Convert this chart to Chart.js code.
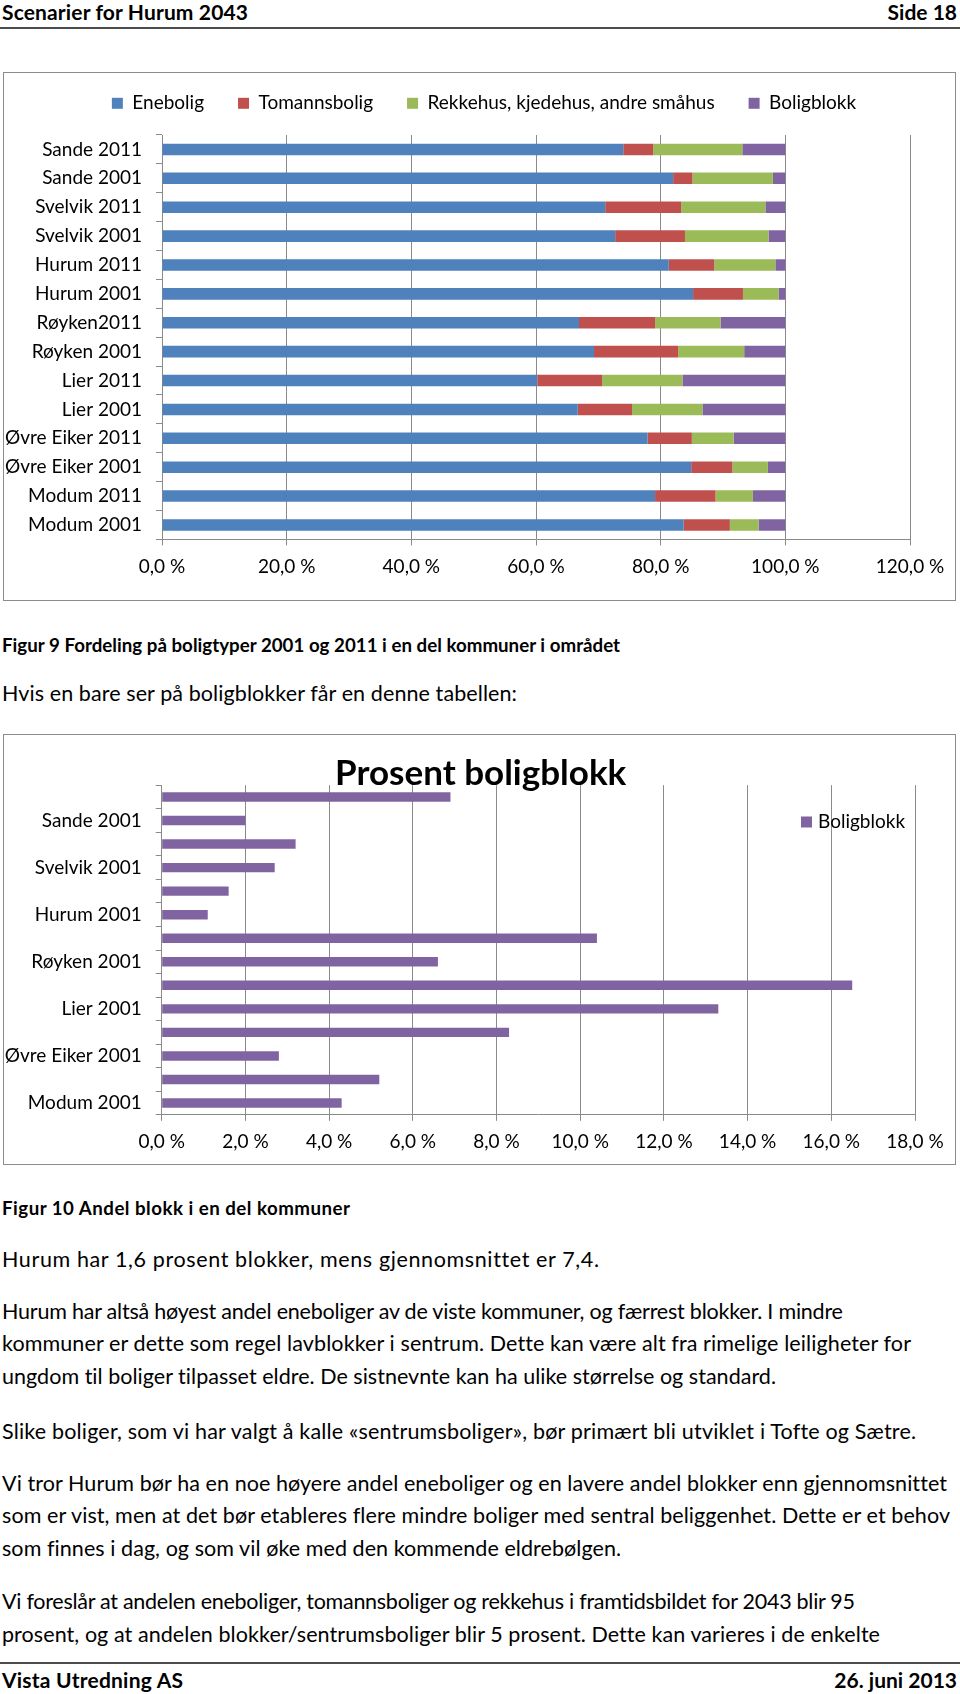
<!DOCTYPE html>
<html lang="no">
<head>
<meta charset="utf-8">
<title>Scenarier for Hurum 2043</title>
<script src="https://cdn.jsdelivr.net/npm/chart.js@4.4.1/dist/chart.umd.min.js"></script>
<style>
  html, body { margin: 0; padding: 0; background: #fff; }
  body { width: 960px; height: 1694px; position: relative; overflow: hidden; font-family: Lato, "Noto Sans", sans-serif; color: #000; font-variant-ligatures: none; }
  .t { position: absolute; left: 2px; white-space: nowrap; font-size: 21.5px; line-height: 1.2; }
  .cap { font-size: 18.7px; font-weight: bold; }
  .head { font-size: 21px; font-weight: bold; }
  .right { left: auto; right: 3px; }
  .rule { position: absolute; left: 0; width: 960px; height: 0; border-top: 2px solid #4d4d4d; }
  .box { position: absolute; left: 3px; width: 953px; box-sizing: border-box; border: 1px solid #8c8c8c; background: #fff; }
  .box canvas { position: absolute; left: 0; top: 0; }
</style>
</head>
<body>

<div class="t head" style="top:-1px" data-w="246">Scenarier for Hurum 2043</div>
<div class="t head right" style="top:-1px">Side 18</div>
<div class="rule" style="top:27px"></div>

<div class="box" style="top:72px; height:529px">
  <canvas id="fordelingChart" width="951" height="527"></canvas>
</div>

<div class="t cap" style="top:633.5px" data-w="618">Figur 9 Fordeling på boligtyper 2001 og 2011 i en del kommuner i området</div>
<div class="t" style="top:680.8px" data-w="515">Hvis en bare ser på boligblokker får en denne tabellen:</div>

<div class="box" style="top:734px; height:431px">
  <canvas id="blokkChart" width="951" height="429"></canvas>
</div>

<div class="t cap" style="top:1196.5px" data-w="348">Figur 10 Andel blokk i en del kommuner</div>
<div class="t" style="top:1246.8px" data-w="597">Hurum har 1,6 prosent blokker, mens gjennomsnittet er 7,4.</div>

<div class="t" style="top:1298.8px" data-w="841">Hurum har altså høyest andel eneboliger av de viste kommuner, og færrest blokker. I mindre</div>
<div class="t" style="top:1331.2px" data-w="909">kommuner er dette som regel lavblokker i sentrum. Dette kan være alt fra rimelige leiligheter for</div>
<div class="t" style="top:1363.6px" data-w="774">ungdom til boliger tilpasset eldre. De sistnevnte kan ha ulike størrelse og standard.</div>

<div class="t" style="top:1418.8px" data-w="914">Slike boliger, som vi har valgt å kalle «sentrumsboliger», bør primært bli utviklet i Tofte og Sætre.</div>

<div class="t" style="top:1470.8px" data-w="945">Vi tror Hurum bør ha en noe høyere andel eneboliger og en lavere andel blokker enn gjennomsnittet</div>
<div class="t" style="top:1503.2px" data-w="948">som er vist, men at det bør etableres flere mindre boliger med sentral beliggenhet. Dette er et behov</div>
<div class="t" style="top:1535.6px" data-w="619">som finnes i dag, og som vil øke med den kommende eldrebølgen.</div>

<div class="t" style="top:1589.4px" data-w="853">Vi foreslår at andelen eneboliger, tomannsboliger og rekkehus i framtidsbildet for 2043 blir 95</div>
<div class="t" style="top:1621.8px" data-w="878">prosent, og at andelen blokker/sentrumsboliger blir 5 prosent. Dette kan varieres i de enkelte</div>

<div class="rule" style="top:1662px"></div>
<div class="t head" style="top:1667px" data-w="181">Vista Utredning AS</div>
<div class="t head right" style="top:1667px">26. juni 2013</div>

<script>
// kommuner, ovenfra og ned
const kommuner = [
    "Sande 2011", "Sande 2001", "Svelvik 2011", "Svelvik 2001",
    "Hurum 2011", "Hurum 2001", "Røyken2011", "Røyken 2001",
    "Lier 2011", "Lier 2001", "Øvre Eiker 2011", "Øvre Eiker 2001",
    "Modum 2011", "Modum 2001",
];

// andel i prosent per boligtype
const enebolig = [74.0, 82.0, 71.1, 72.7, 81.3, 85.2, 66.9, 69.3, 60.2, 66.7, 77.9, 84.9, 79.1, 83.7];
const tomannsbolig = [4.8, 3.1, 12.2, 11.2, 7.3, 8.0, 12.2, 13.5, 10.4, 8.7, 7.1, 6.6, 9.7, 7.4];
const rekkehus = [14.3, 12.9, 13.5, 13.4, 9.8, 5.7, 10.5, 10.6, 12.9, 11.3, 6.7, 5.7, 6.0, 4.6];
const boligblokk = [6.9, 2.0, 3.2, 2.7, 1.6, 1.1, 10.4, 6.6, 16.5, 13.3, 8.3, 2.8, 5.2, 4.3];

const seriesNames = ["Enebolig", "Tomannsbolig", "Rekkehus, kjedehus, andre småhus", "Boligblokk"];

// akser
const fordelingMax = 120;
const fordelingStep = 20;
const blokkMax = 18;
const blokkStep = 2;

const colors = ["#4F81BD", "#C0504D", "#9BBB59", "#8064A2"];
const gridGrey = "#8a8a8a";
const tickFont = { family: "Lato", size: 19 };

Chart.defaults.font.family = "Lato";
Chart.defaults.color = "#000";

// stretch each text line a little so it runs as wide as in the original (Calibri)
function fitLines() {
    document.querySelectorAll(".t[data-w]").forEach((el) => {
        const target = parseFloat(el.dataset.w);
        const natural = el.getBoundingClientRect().width;
        const n = el.textContent.length - 1;
        if (n > 0) {
            el.style.letterSpacing = ((target - natural) / n).toFixed(3) + "px";
        }
    });
}
fitLines();

function formatPct(value) {
    return value.toFixed(1).replace(".", ",") + " %";
}

// extra room under the legend and move it to the middle of the box (chart 1)
const legendPlace = {
    id: "legendPlace",
    beforeInit(chart) {
        if (!chart.legend) return;
        const originalFit = chart.legend.fit;
        chart.legend.fit = function fit() {
            originalFit.call(this);
            this.height = 75.2;
        };
    },
    afterLayout(chart) {
        chart.legend.left = 54;
        chart.legend.right = 906;
    },
};

// centre the title over the whole box, not only the plot (chart 2)
const titlePlace = {
    id: "titlePlace",
    afterLayout(chart) {
        if (!chart.titleBlock) return;
        chart.titleBlock.left = 2.4;
        chart.titleBlock.right = 951;
    },
};

// legend for chart 2 sits on top of the plot, like in Excel
const blokkLegend = {
    id: "blokkLegend",
    afterDraw(chart) {
        const { ctx, chartArea } = chart;
        const x = chartArea.right - 114;
        const y = chartArea.top + 36.8;
        ctx.save();
        ctx.fillStyle = colors[3];
        ctx.fillRect(x, y - 5.5, 11, 11);
        ctx.fillStyle = "#000";
        ctx.font = "19px Lato";
        ctx.textBaseline = "middle";
        ctx.fillText(chart.data.datasets[0].label, x + 17, y);
        ctx.restore();
    },
};

function makeDatasets() {
    return [enebolig, tomannsbolig, rekkehus, boligblokk].map((values, i) => ({
        label: seriesNames[i],
        data: values,
        backgroundColor: colors[i],
        borderWidth: 0,
    }));
}

new Chart(document.getElementById("fordelingChart"), {
    type: "bar",
    data: {
        labels: kommuner,
        datasets: makeDatasets(),
    },
    options: {
        indexAxis: "y",
        responsive: false,
        animation: false,
        devicePixelRatio: 1,
        layout: { padding: { top: -13.2, left: 0, right: 45, bottom: 0 } },
        datasets: { bar: { categoryPercentage: 1, barPercentage: 0.4 } },
        plugins: {
            legend: {
                position: "top",
                align: "center",
                labels: {
                    boxWidth: 11,
                    boxHeight: 11,
                    padding: 34,
                    color: "#000",
                    font: tickFont,
                },
            },
            tooltip: { enabled: false },
        },
        scales: {
            x: {
                stacked: true,
                min: 0,
                max: fordelingMax,
                ticks: {
                    stepSize: fordelingStep,
                    callback: formatPct,
                    padding: 10,
                    color: "#000",
                    font: tickFont,
                    maxRotation: 0,
                },
                grid: { color: gridGrey, tickLength: 6 },
                border: { color: gridGrey },
                afterFit: (scale) => {
                    scale.height = 60.6;
                },
            },
            y: {
                stacked: true,
                ticks: { autoSkip: false, padding: 14, color: "#000", font: tickFont },
                grid: { drawOnChartArea: false, color: gridGrey, tickLength: 6 },
                border: { color: gridGrey },
                afterFit: (scale) => {
                    scale.width = 158;
                },
            },
        },
    },
    plugins: [legendPlace],
});

new Chart(document.getElementById("blokkChart"), {
    type: "bar",
    data: {
        labels: kommuner,
        datasets: [
            {
                label: "Boligblokk",
                data: boligblokk,
                backgroundColor: colors[3],
                borderWidth: 0,
            },
        ],
    },
    options: {
        indexAxis: "y",
        responsive: false,
        animation: false,
        devicePixelRatio: 1,
        layout: { padding: { top: 0, left: 0, right: 40, bottom: 0 } },
        datasets: { bar: { categoryPercentage: 1, barPercentage: 0.4 } },
        plugins: {
            legend: { display: false },
            tooltip: { enabled: false },
            title: {
                display: true,
                text: "Prosent boligblokk",
                color: "#000",
                font: { family: "Lato", size: 35, weight: "bold" },
                padding: { top: 18, bottom: -9.8 },
            },
        },
        scales: {
            x: {
                min: 0,
                max: blokkMax,
                ticks: {
                    stepSize: blokkStep,
                    callback: formatPct,
                    padding: 9.5,
                    color: "#000",
                    font: tickFont,
                    maxRotation: 0,
                },
                grid: { color: gridGrey, tickLength: 6 },
                border: { color: gridGrey },
                afterFit: (scale) => {
                    scale.height = 49.2;
                },
            },
            y: {
                ticks: {
                    autoSkip: false,
                    padding: 14,
                    color: "#000",
                    font: tickFont,
                    // Excel only had room for every other label
                    callback: function (value, index) {
                        return index % 2 === 1 ? this.getLabelForValue(value) : "";
                    },
                },
                grid: { drawOnChartArea: false, color: gridGrey, tickLength: 6 },
                border: { color: gridGrey },
                afterFit: (scale) => {
                    scale.width = 157.7;
                },
            },
        },
    },
    plugins: [titlePlace, blokkLegend],
});
</script>
</body>
</html>
